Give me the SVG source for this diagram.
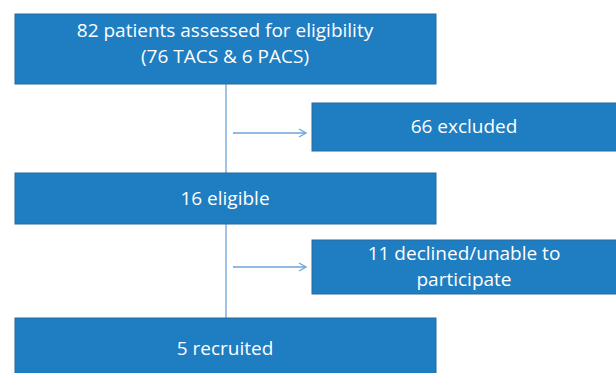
<svg xmlns="http://www.w3.org/2000/svg" width="616" height="373" viewBox="0 0 616 373">
<defs>
<style>
.box{fill:#1f7dc1;stroke:#2b6a9e;stroke-width:1}
.t{fill:#ffffff;font-family:"Open Sans","Liberation Sans",sans-serif;font-size:19px;text-anchor:middle}
.c{stroke:#6fa3d6;stroke-width:1.3;fill:none}
</style>
<marker id="ah" markerWidth="10" markerHeight="10" refX="8" refY="5" orient="auto" markerUnits="userSpaceOnUse">
<path d="M1,1 L8,5 L1,9" fill="none" stroke="#6fa3d6" stroke-width="1.3"/>
</marker>
</defs>
<rect width="616" height="373" fill="#ffffff"/>
<g id="connectors">
<line class="c" x1="226" y1="84" x2="226" y2="173"/>
<line class="c" x1="226" y1="224" x2="226" y2="318"/>
<line class="c" x1="233" y1="133" x2="306" y2="133" marker-end="url(#ah)"/>
<line class="c" x1="233" y1="267" x2="306" y2="267" marker-end="url(#ah)"/>
</g>
<g id="assessed">
<rect class="box" x="15" y="14" width="421" height="70"/>
<text class="t" x="225" y="37">82 patients assessed for eligibility</text>
<text class="t" x="225" y="63">(76 TACS &amp; 6 PACS)</text>
</g>
<g id="excluded">
<rect class="box" x="312" y="103" width="310" height="48"/>
<text class="t" x="464" y="133">66 excluded</text>
</g>
<g id="eligible">
<rect class="box" x="15" y="173" width="421" height="51"/>
<text class="t" x="225" y="205">16 eligible</text>
</g>
<g id="declined">
<rect class="box" x="312" y="240" width="310" height="54"/>
<text class="t" x="464" y="260">11 declined/unable to</text>
<text class="t" x="464" y="286">participate</text>
</g>
<g id="recruited">
<rect class="box" x="15" y="318" width="421" height="60"/>
<text class="t" x="225" y="355">5 recruited</text>
</g>
</svg>
